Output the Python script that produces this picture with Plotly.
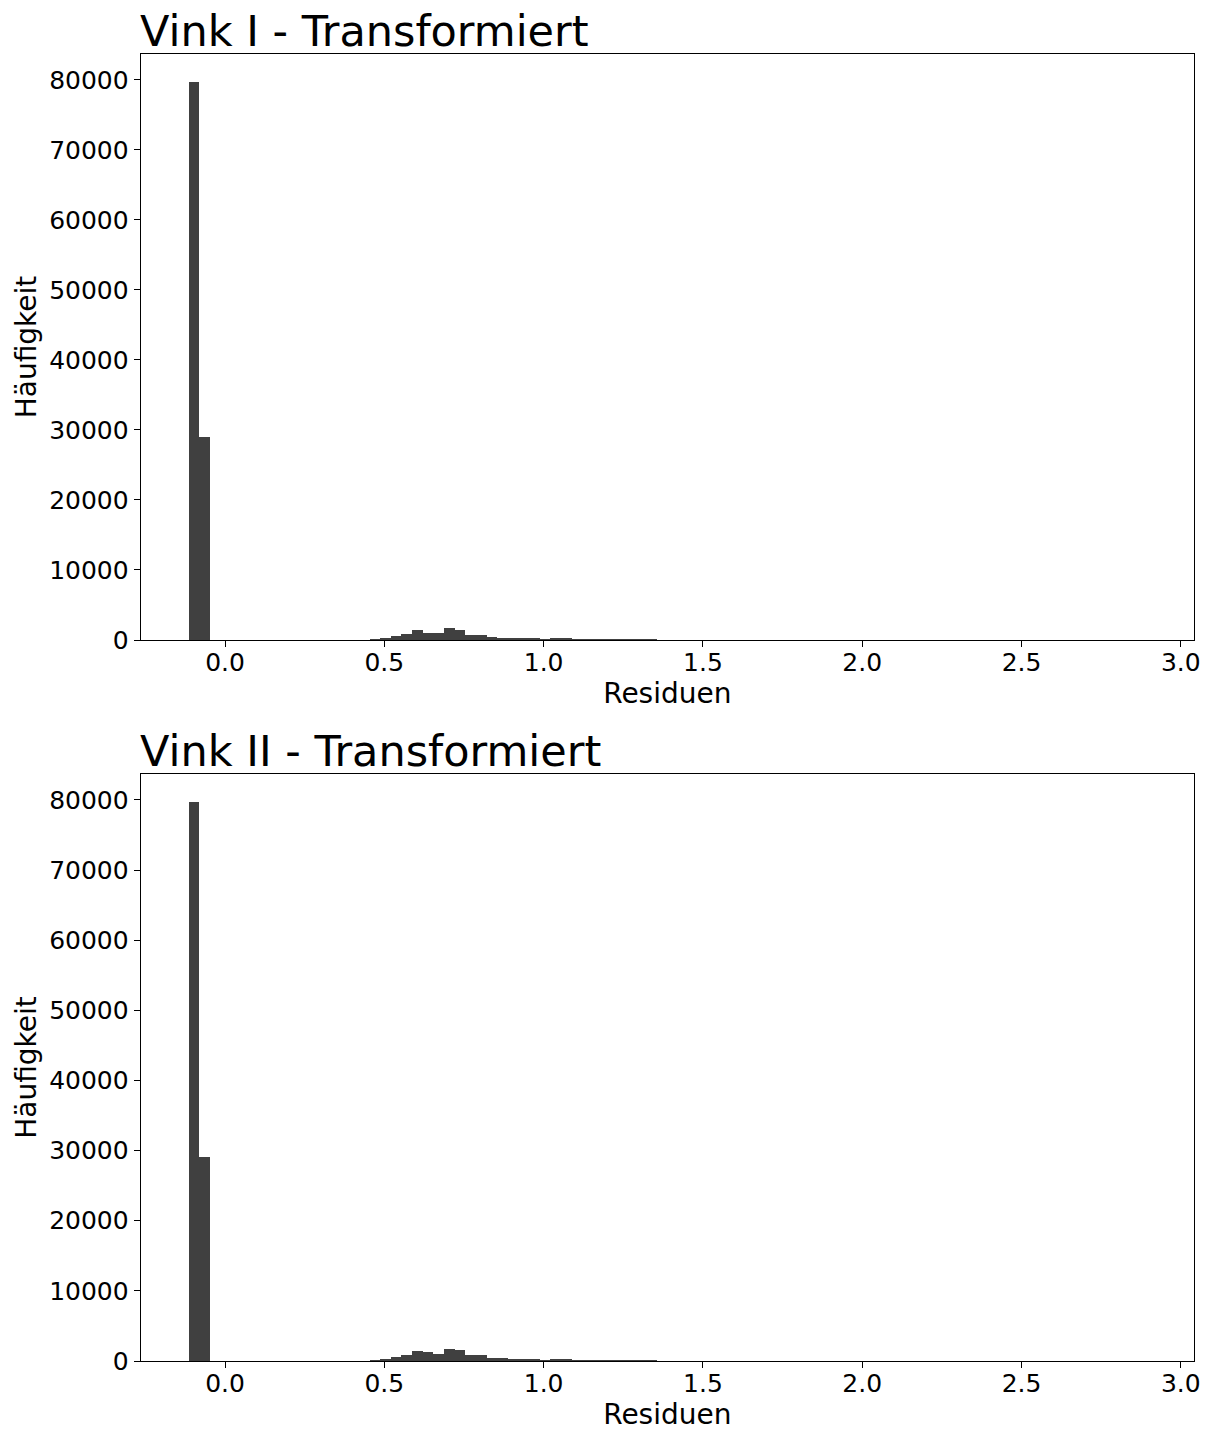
import plotly.graph_objects as go

# Histogram data (bin counts), 90 bins starting at bin_start with width bin_width
bin_start = -0.115
bin_width = 0.0334
counts_vink1 = [79750, 29050, 0, 0, 0, 0, 0, 0, 0, 0,
                0, 0, 0, 0, 0, 0, 0, 100, 240, 620,
                810, 1380, 1050, 1050, 1720, 1480, 760, 760, 480, 330,
                330, 330, 330, 100, 240, 240, 90, 80, 80, 70,
                70, 60, 60, 50, 0, 0, 0, 0, 0, 0,
                0, 0, 0, 0, 0, 0, 0, 0, 0, 0,
                0, 0, 0, 0, 0, 0, 0, 0, 0, 0,
                0, 0, 0, 0, 0, 0, 0, 0, 0, 0,
                0, 0, 0, 0, 0, 0, 0, 0, 0, 0]
counts_vink2 = [79750, 29050, 0, 0, 0, 0, 0, 0, 0, 0,
                0, 0, 0, 0, 0, 0, 0, 100, 240, 620,
                810, 1380, 1240, 1050, 1760, 1520, 810, 810, 480, 380,
                330, 330, 330, 100, 240, 240, 90, 80, 80, 70,
                70, 60, 60, 50, 0, 0, 0, 0, 0, 0,
                0, 0, 0, 0, 0, 0, 0, 0, 0, 0,
                0, 0, 0, 0, 0, 0, 0, 0, 0, 0,
                0, 0, 0, 0, 0, 0, 0, 0, 0, 0,
                0, 0, 0, 0, 0, 0, 0, 0, 0, 0]
titles = ["Vink I - Transformiert", "Vink II - Transformiert"]
x_label = "Residuen"
y_label = "Häufigkeit"
x_ticks = [0.0, 0.5, 1.0, 1.5, 2.0, 2.5, 3.0]
x_ticktext = ["0.0", "0.5", "1.0", "1.5", "2.0", "2.5", "3.0"]
y_ticks = [0, 10000, 20000, 30000, 40000, 50000, 60000, 70000, 80000]
y_ticktext = ["0", "10000", "20000", "30000", "40000", "50000", "60000", "70000", "80000"]

W, H = 1212, 1432
FONT = "DejaVu Sans"
BAR = "#404040"

centers = [bin_start + bin_width * (i + 0.5) for i in range(len(counts_vink1))]

fig = go.Figure()
for k, counts in enumerate([counts_vink1, counts_vink2]):
    suf = "" if k == 0 else "2"
    fig.add_trace(go.Bar(x=centers, y=counts, width=bin_width,
                         marker=dict(color=BAR, line=dict(width=0)),
                         xaxis="x" + suf, yaxis="y" + suf, showlegend=False))

xdom = [140.7 / W, 1194 / W]
ydoms = [[1 - 640 / H, 1 - 54 / H], [1 - 1361 / H, 1 - 774 / H]]

axis_common = dict(showline=True, linecolor="black", linewidth=1, mirror=True,
                   ticks="outside", ticklen=6, tickwidth=1, tickcolor="black",
                   showgrid=False, zeroline=False,
                   tickfont=dict(family=FONT, size=25, color="black"))
layout = dict(width=W, height=H, margin=dict(l=0, r=0, t=0, b=0, autoexpand=False),
              paper_bgcolor="white", plot_bgcolor="white", bargap=0,
              font=dict(family=FONT, color="black"))
annotations = []
for k in range(2):
    suf = "" if k == 0 else "2"
    layout["xaxis" + suf] = dict(axis_common, domain=xdom, range=[-0.2646, 3.0414],
                                 tickvals=x_ticks, ticktext=x_ticktext,
                                 anchor="y" + suf, ticklabelstandoff=-6,
                                 title=dict(text=x_label, font=dict(family=FONT, size=28), standoff=6))
    layout["yaxis" + suf] = dict(axis_common, domain=ydoms[k], range=[0, 83700],
                                 tickvals=y_ticks, ticktext=y_ticktext, anchor="x" + suf,
                                 title=dict(text=y_label, font=dict(family=FONT, size=28), standoff=4))
    annotations.append(dict(text=titles[k], xref="paper", yref="paper",
                            x=xdom[0], y=ydoms[k][1], xanchor="left", yanchor="bottom",
                            showarrow=False, yshift=-4, xshift=-3,
                            font=dict(family=FONT, size=43, color="black")))
layout["annotations"] = annotations
fig.update_layout(**layout)
fig.write_html("out.html")
